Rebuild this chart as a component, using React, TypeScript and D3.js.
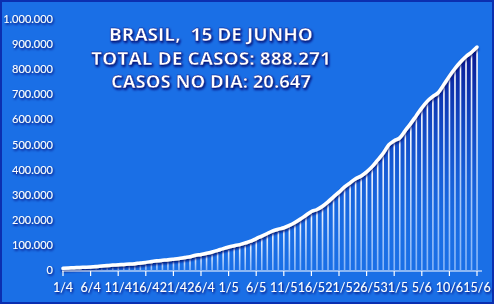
import React from "react";
import * as d3 from "d3";

const dates: string[] = [];
const startDate = new Date(2020, 3, 1);
const cases = [
  6836, 8044, 9056, 10360, 11130, 12056, 13717, 15927, 17857, 19638,
  20727, 22169, 23430, 25262, 28320, 30425, 33682, 36599, 38654, 40581,
  43079, 45757, 49492, 52995, 58509, 61888, 66501, 71886, 78162, 85380,
  91589, 96559, 101147, 107780, 114715, 125218, 135106, 145328, 155939, 162699,
  168331, 177589, 188974, 202918, 218223, 233142, 241080, 254220, 271628, 291579,
  310087, 330890, 347398, 363211, 374898, 391222, 411821, 438238, 465166, 498440,
  514849, 526447, 555383, 584016, 614941, 645771, 672846, 691758, 707412, 739503,
  772416, 802828, 828810, 850514, 867624, 888271,
];
for (let i = 0; i < cases.length; i++) {
  const d = new Date(startDate.getTime());
  d.setDate(d.getDate() + i);
  dates.push(`${d.getDate()}/${d.getMonth() + 1}`);
}
const yTicks = [0, 100000, 200000, 300000, 400000, 500000, 600000, 700000, 800000, 900000, 1000000];
const titleLines = ["BRASIL,  15 DE JUNHO", "TOTAL DE CASOS: 888.271", "CASOS NO DIA: 20.647"];
const titleWidths = [204, 240, 200];

const W = 494;
const H = 304;

export default function App() {
  const x = d3.scalePoint<string>().domain(dates).range([63, 477]);
  const y = d3.scaleLinear().domain([0, 1000000]).range([270, 19]);
  const fmt = (v: number) => (v === 0 ? "0" : d3.format(",")(v).replace(/,/g, "."));
  const line = d3
    .line<number>()
    .x((_, i) => x(dates[i]) as number)
    .y((d) => y(d))
    .curve(d3.curveMonotoneX);
  const area = d3
    .area<number>()
    .x((_, i) => x(dates[i]) as number)
    .y0(y(0))
    .y1((d) => y(d))
    .curve(d3.curveMonotoneX);
  const tickDates = dates.filter((_, i) => i % 5 === 0);
  return (
    <svg
      width={W}
      height={H}
      style={{ position: "absolute", left: 0, top: 0, display: "block" }}
    >
      <defs>
        <linearGradient id="shade" x1="0" y1="0" x2="0" y2="1" gradientUnits="objectBoundingBox">
          <stop offset="0" stopColor="#081690" stopOpacity={1} />
          <stop offset="0.5" stopColor="#0e3ab8" stopOpacity={0.45} />
          <stop offset="1" stopColor="#1b6fe3" stopOpacity={0} />
        </linearGradient>
        <linearGradient id="barg" x1="0" y1="0" x2="0" y2="1">
          <stop offset="0" stopColor="#ffffff" stopOpacity={1} />
          <stop offset="1" stopColor="#b0d0ff" stopOpacity={0.7} />
        </linearGradient>
        <filter id="tshadow" x="-10%" y="-30%" width="120%" height="160%">
          <feDropShadow dx="1" dy="1.5" stdDeviation="0.8" floodColor="#061070" floodOpacity={1} />
        </filter>
        <filter id="lshadow" x="-5%" y="-5%" width="110%" height="110%">
          <feDropShadow dx="0" dy="2" stdDeviation="1.2" floodColor="#061070" floodOpacity={0.9} />
        </filter>
      </defs>
      <rect x={0} y={0} width={W} height={H} fill="#1a6fe6" />
      <rect x={1} y={1} width={W - 2} height={H - 2} fill="none" stroke="#0b2fb0" strokeWidth={2} />
      <path d={area(cases) || ""} fill="url(#shade)" />
      {cases.map((v, i) => (
        <rect
          key={i}
          x={(x(dates[i]) as number) - 0.75}
          y={y(v)}
          width={1.6}
          height={y(0) - y(v)}
          fill="url(#barg)"
        />
      ))}
      <path
        d={line(cases) || ""}
        fill="none"
        stroke="#ffffff"
        strokeWidth={3.5}
        strokeLinejoin="round"
        strokeLinecap="round"
        filter="url(#lshadow)"
      />
      <line x1={62} x2={482} y1={y(0) + 1} y2={y(0) + 1} stroke="#ffffff" strokeWidth={1.2} />
      {tickDates.map((d) => (
        <g key={d}>
          <line
            x1={x(d) as number}
            x2={x(d) as number}
            y1={y(0) + 1}
            y2={y(0) + 6}
            stroke="#ffffff"
            strokeWidth={1.2}
          />
          <text
            x={x(d) as number}
            y={292}
            textAnchor="middle"
            fontFamily="Lato, 'Open Sans', sans-serif"
            fontSize={12.5}
            fill="#ffffff"
            filter="url(#tshadow)"
          >
            {d}
          </text>
        </g>
      ))}
      {yTicks.map((t) => (
        <text
          key={t}
          x={53}
          y={y(t) + 4}
          textAnchor="end"
          fontFamily="Lato, 'Open Sans', sans-serif"
          fontSize={11}
          fill="#ffffff"
          filter="url(#tshadow)"
        >
          {fmt(t)}
        </text>
      ))}
      {titleLines.map((t, i) => (
        <text
          key={i}
          x={211}
          y={41 + i * 23.5}
          textAnchor="middle"
          fontFamily="'Open Sans', sans-serif"
          fontWeight={700}
          fontSize={18}
          fill="#ffffff"
          textLength={titleWidths[i]}
          lengthAdjust="spacingAndGlyphs"
          style={{ whiteSpace: "pre" }}
          filter="url(#tshadow)"
          stroke="#0a1a8a"
          strokeWidth={0.4}
        >
          {t}
        </text>
      ))}
    </svg>
  );
}
